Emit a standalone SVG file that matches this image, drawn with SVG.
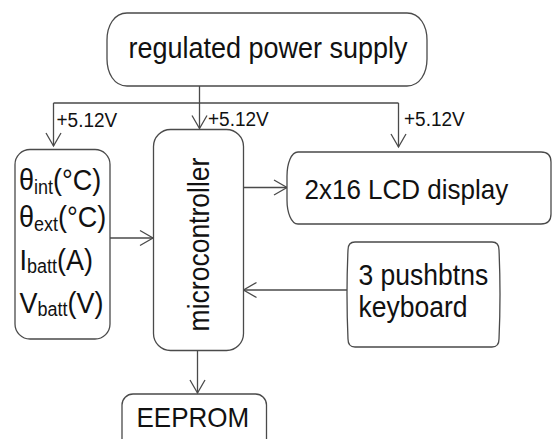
<svg xmlns="http://www.w3.org/2000/svg" width="552" height="439" viewBox="0 0 552 439">
  <style>
    .box { fill: #ffffff; stroke: #4a4a4a; stroke-width: 1.3; }
    .wire { fill: none; stroke: #4a4a4a; stroke-width: 1.3; }
    .t { font-family: "Liberation Sans", Arial, sans-serif; fill: #111111; }
    .lbl { font-family: "Liberation Sans", Arial, sans-serif; fill: #111111; font-size: 19px; }
  </style>
  <defs>
    <marker id="arrow" markerUnits="userSpaceOnUse" markerWidth="20" markerHeight="20" refX="14" refY="8" orient="auto" overflow="visible">
      <path d="M1,0.5 L14,8 L1,15.5" fill="none" stroke="#4a4a4a" stroke-width="1.3"/>
    </marker>
  </defs>

  <rect x="0" y="0" width="552" height="439" fill="#ffffff"/>

  <!-- connectors -->
  <g id="connectors">
    <!-- supply rail -->
    <path class="wire" d="M199.5,86 V103 M53.5,103 H398.5"/>
    <path class="wire" d="M53.5,103 V146" marker-end="url(#arrow)"/>
    <path class="wire" d="M199.5,103 V128.5" marker-end="url(#arrow)"/>
    <path class="wire" d="M398.5,103 V147" marker-end="url(#arrow)"/>
    <!-- signal paths -->
    <path class="wire" d="M110,238 H153" marker-end="url(#arrow)"/>
    <path class="wire" d="M243.5,187.5 H287" marker-end="url(#arrow)"/>
    <path class="wire" d="M347,290 H243.5" marker-end="url(#arrow)"/>
    <path class="wire" d="M197.5,350.5 V393" marker-end="url(#arrow)"/>
    <text class="lbl" transform="translate(56.5 126.5) scale(1 1.05)">+5.12V</text>
    <text class="lbl" transform="translate(208 126) scale(1 1.05)">+5.12V</text>
    <text class="lbl" transform="translate(404 125.5) scale(1 1.05)">+5.12V</text>
  </g>

  <g id="supply">
    <path class="box" d="M127,13 H407 C420,13 427,26 427,40 V59 C427,73 420,86 407,86 H127 C114,86 107,73 107,59 V40 C107,26 114,13 127,13 Z"/>
    <text class="t" transform="translate(268 57.5) scale(1 1.1)" font-size="27" text-anchor="middle">regulated power supply</text>
  </g>

  <g id="sensors">
    <rect class="box" x="15" y="149.5" width="95" height="189.5" rx="15" ry="15"/>
    <text class="t" transform="translate(19 190) scale(1 1.1)" font-size="27">θ<tspan font-size="18" dy="4">int</tspan><tspan dy="-4">(°C)</tspan></text>
    <text class="t" transform="translate(19 227) scale(1 1.1)" font-size="27">θ<tspan font-size="18" dy="4">ext</tspan><tspan dy="-4">(°C)</tspan></text>
    <text class="t" transform="translate(19.5 269.5) scale(1 1.1)" font-size="27">I<tspan font-size="18" dy="3">batt</tspan><tspan dy="-3">(A)</tspan></text>
    <text class="t" transform="translate(19.5 313) scale(1 1.1)" font-size="27">V<tspan font-size="18" dy="3">batt</tspan><tspan dy="-3">(V)</tspan></text>
  </g>

  <g id="microcontroller">
    <rect class="box" x="153.5" y="129.5" width="90" height="221" rx="17" ry="17"/>
    <text class="t" transform="translate(208.5 244.5) rotate(-90) scale(1 1.08)" font-size="26.5" text-anchor="middle">microcontroller</text>
  </g>

  <g id="lcd">
    <path class="box" d="M298,152 H541 Q551,152 551,162 V214 Q551,224 541,224 H298 C291,224 287,212 287,200 V176 C287,164 291,152 298,152 Z"/>
    <text class="t" transform="translate(304.5 198.5) scale(1 1.08)" font-size="26">2x16 LCD display</text>
  </g>

  <g id="keyboard">
    <path class="box" d="M355,242 H492 Q499,242 499,250 Q501,294 499,339 Q499,347 492,347 H355 Q348,347 348,339 Q346,294 348,250 Q348,242 355,242 Z"/>
    <text class="t" transform="translate(358.5 285) scale(1 1.08)" font-size="26.5">3 pushbtns</text>
    <text class="t" transform="translate(358.5 317) scale(1 1.08)" font-size="26.5">keyboard</text>
  </g>

  <g id="eeprom">
    <rect class="box" x="122" y="394" width="144.5" height="60" rx="11" ry="11"/>
    <text class="t" transform="translate(136.5 427) scale(1 1.08)" font-size="26">EEPROM</text>
  </g>
</svg>
